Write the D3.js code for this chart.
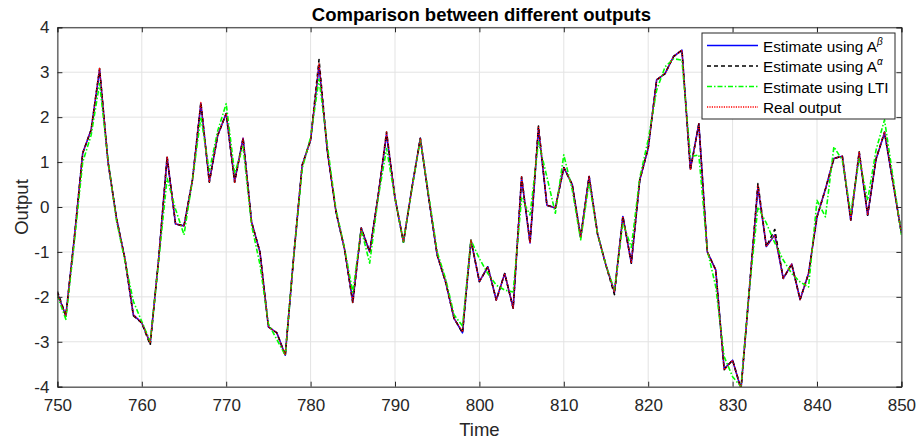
<!DOCTYPE html>
<html><head><meta charset="utf-8">
<script src="https://cdn.jsdelivr.net/npm/d3@7"></script>
<style>body{margin:0;background:#fff}svg{display:block}text{font-family:"Liberation Sans",Arial,sans-serif}</style>
</head><body><svg id="c" width="920" height="445"></svg>
<script>
const time = d3.range(750, 851);
const realOutput = [-1.92,-2.42,-0.7,1.2,1.72,3.1,1.0,-0.25,-1.15,-2.4,-2.58,-3.03,-1.15,1.12,-0.38,-0.42,0.6,2.33,0.55,1.6,2.08,0.55,1.53,-0.33,-1.0,-2.67,-2.8,-3.3,-1.1,0.93,1.49,3.2,1.22,-0.1,-0.92,-2.12,-0.47,-1.0,0.25,1.67,0.2,-0.78,0.42,1.53,0.2,-1.07,-1.67,-2.48,-2.78,-0.74,-1.66,-1.33,-2.07,-1.48,-2.25,0.67,-0.8,1.8,0.04,-0.02,0.88,0.5,-0.67,0.68,-0.6,-1.3,-1.9,-0.21,-1.25,0.6,1.31,2.83,2.97,3.35,3.49,0.82,1.85,-1.0,-1.4,-3.62,-3.41,-4.05,-1.8,0.49,-0.88,-0.62,-1.59,-1.27,-2.06,-1.48,-0.22,0.4,1.08,1.13,-0.29,1.23,-0.18,1.07,1.67,0.55,-0.58];
const estBeta = [-1.92,-2.42,-0.7,1.2,1.72,3.05,1.0,-0.25,-1.15,-2.4,-2.58,-3.03,-1.15,1.1,-0.38,-0.42,0.6,2.3,0.57,1.6,2.08,0.57,1.53,-0.33,-1.0,-2.67,-2.8,-3.3,-1.1,0.93,1.49,3.15,1.22,-0.1,-0.92,-2.1,-0.47,-1.0,0.25,1.62,0.2,-0.78,0.42,1.53,0.2,-1.07,-1.67,-2.48,-2.8,-0.74,-1.66,-1.33,-2.07,-1.48,-2.25,0.65,-0.8,1.75,0.04,-0.02,0.88,0.5,-0.67,0.68,-0.6,-1.3,-1.9,-0.21,-1.25,0.6,1.31,2.83,2.97,3.35,3.49,0.85,1.85,-1.0,-1.4,-3.6,-3.41,-4.05,-1.8,0.45,-0.88,-0.62,-1.59,-1.27,-2.06,-1.48,-0.22,0.4,1.08,1.13,-0.29,1.2,-0.18,1.07,1.65,0.55,-0.58];
const estAlpha = [-1.88,-2.42,-0.7,1.2,1.72,3.08,1.0,-0.25,-1.15,-2.42,-2.58,-3.07,-1.15,1.12,-0.38,-0.42,0.6,2.33,0.55,1.6,2.08,0.55,1.53,-0.33,-1.0,-2.67,-2.8,-3.3,-1.1,0.93,1.49,3.28,1.22,-0.1,-0.92,-2.14,-0.47,-1.0,0.25,1.67,0.2,-0.78,0.42,1.53,0.2,-1.07,-1.67,-2.48,-2.8,-0.74,-1.66,-1.33,-2.07,-1.48,-2.25,0.67,-0.8,1.8,0.04,-0.02,0.88,0.5,-0.67,0.68,-0.6,-1.3,-1.95,-0.21,-1.25,0.6,1.31,2.83,2.97,3.35,3.49,0.82,1.85,-1.0,-1.4,-3.62,-3.41,-4.05,-1.8,0.52,-0.88,-0.5,-1.59,-1.27,-2.06,-1.48,-0.22,0.4,1.08,1.13,-0.29,1.23,-0.18,1.07,1.67,0.55,-0.58];
const estLTI = [-1.96,-2.5,-0.8,1.0,1.6,2.75,1.05,-0.3,-1.2,-2.1,-2.55,-3.0,-1.2,0.64,-0.05,-0.62,0.6,2.0,0.8,1.7,2.3,0.75,1.35,-0.4,-1.28,-2.6,-2.95,-3.3,-1.1,0.85,1.55,2.85,1.35,-0.05,-0.9,-1.9,-0.5,-1.25,0.2,1.3,0.2,-0.78,0.4,1.5,0.25,-1.0,-1.6,-2.4,-2.65,-0.74,-1.15,-1.48,-1.74,-1.85,-1.89,0.2,-0.18,1.45,0.67,-0.14,1.16,0.38,-0.73,0.55,-0.6,-1.3,-1.85,-0.35,-0.9,0.65,1.5,2.6,3.12,3.3,3.27,1.12,1.16,-0.96,-1.77,-3.33,-3.78,-4.0,-1.8,0.0,-0.36,-0.8,-1.18,-1.48,-1.67,-1.78,0.15,-0.22,1.34,1.04,-0.14,1.08,0.15,1.27,1.94,0.67,-0.62];
const xTicks = [750,760,770,780,790,800,810,820,830,840,850];
const yTicks = [-4,-3,-2,-1,0,1,2,3,4];
const titleText = "Comparison between different outputs";
const xLabel = "Time", yLabel = "Output";
const legendLabels = [["Estimate using A","β"],["Estimate using A","α"],["Estimate using LTI",""],["Real output",""]];

const svg = d3.select("#c");
const L=57.4, R=901.4, T=27.3, B=386.7;
const x = d3.scaleLinear().domain([750,850]).range([L,R]);
const y = d3.scaleLinear().domain([-4,4]).range([B,T]);
const axisCol = "#262626";
const FONT = "'Liberation Sans',Arial,sans-serif";

// grid
const g = svg.append("g");
g.selectAll("line.gx").data(xTicks).join("line").attr("x1",d=>x(d)).attr("x2",d=>x(d)).attr("y1",T).attr("y2",B).attr("stroke","#e3e3e3").attr("stroke-width",1);
g.selectAll("line.gy").data(yTicks).join("line").attr("y1",d=>y(d)).attr("y2",d=>y(d)).attr("x1",L).attr("x2",R).attr("stroke","#e3e3e3").attr("stroke-width",1);

// series
svg.append("defs").append("clipPath").attr("id","clip").append("rect").attr("x",L).attr("y",T).attr("width",R-L).attr("height",B-T);
const line = arr => d3.line().x((d,i)=>x(time[i])).y(d=>y(d))(arr);
const series = [
  {data:estBeta,color:"#0000ff",dash:null,w:1.6},
  {data:estAlpha,color:"#000000",dash:"4,3",w:1.6},
  {data:estLTI,color:"#00ff00",dash:"5,2,1.5,2",w:1.6},
  {data:realOutput,color:"#ff0000",dash:"1.2,1.2",w:1.3}
];
const sg = svg.append("g").attr("clip-path","url(#clip)");
series.forEach(s=>{
  sg.append("path").attr("d",line(s.data)).attr("fill","none").attr("stroke",s.color).attr("stroke-width",s.w).attr("stroke-dasharray",s.dash).attr("stroke-linejoin","round");
});

// axes
const xa = svg.append("g").attr("transform",`translate(0,${B})`).call(d3.axisBottom(x).tickValues(xTicks).tickSize(-5).tickPadding(12).tickFormat(d3.format("d")));
const xt = svg.append("g").attr("transform",`translate(0,${T})`).call(d3.axisTop(x).tickValues(xTicks).tickSize(-5).tickFormat(""));
const ya = svg.append("g").attr("transform",`translate(${L},0)`).call(d3.axisLeft(y).tickValues(yTicks).tickSize(-5).tickPadding(8).tickFormat(d3.format("d")));
const yr = svg.append("g").attr("transform",`translate(${R},0)`).call(d3.axisRight(y).tickValues(yTicks).tickSize(-5).tickFormat(""));
[xa,xt,ya,yr].forEach(a=>{
  a.select(".domain").attr("stroke",axisCol).attr("stroke-width",1);
  a.selectAll(".tick line").attr("stroke",axisCol);
  a.selectAll(".tick text").attr("fill",axisCol).style("font-size","17px").style("font-family",FONT);
});
ya.selectAll(".tick text").text(d=>d<0?"-"+Math.abs(d):d);

// labels
svg.append("text").attr("x",(L+R)/2+2).attr("y",21).attr("text-anchor","middle").style("font-weight","bold").style("font-size","18.5px").attr("fill","#000").text(titleText);
svg.append("text").attr("x",(L+R)/2).attr("y",436).attr("text-anchor","middle").style("font-size","18.5px").attr("fill",axisCol).text(xLabel);
svg.append("text").attr("transform",`translate(28,${(T+B)/2}) rotate(-90)`).attr("text-anchor","middle").style("font-size","18.5px").attr("fill",axisCol).text(yLabel);

// legend
const lg = svg.append("g");
const lx=702, ly=33, lw=193, lh=86;
lg.append("rect").attr("x",lx).attr("y",ly).attr("width",lw).attr("height",lh).attr("fill","#fff").attr("stroke",axisCol).attr("stroke-width",1);
legendLabels.forEach((lab,i)=>{
  const yy = ly+12.5+i*20.5;
  const s = series[i];
  lg.append("line").attr("x1",lx+5).attr("x2",lx+56).attr("y1",yy).attr("y2",yy).attr("stroke",s.color).attr("stroke-width",s.w).attr("stroke-dasharray",s.dash);
  const t = lg.append("text").attr("x",lx+61).attr("y",yy+6).style("font-size","15.3px").attr("fill","#000");
  t.append("tspan").text(lab[0]);
  if(lab[1]) t.append("tspan").attr("dy",-7).style("font-size","10px").style("font-style","italic").text(lab[1]);
});
</script></body></html>
